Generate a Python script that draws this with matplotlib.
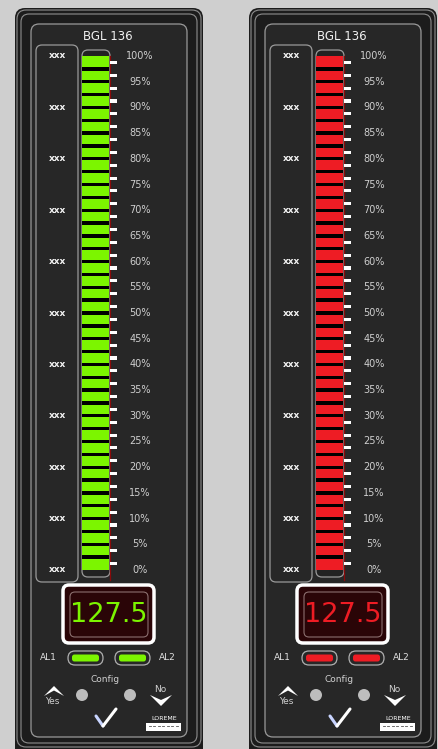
import numpy as np
import matplotlib
matplotlib.use("Agg")
import matplotlib.pyplot as plt
from matplotlib.patches import FancyBboxPatch, Circle, Polygon

W, H = 439, 749

# chart data
title = "BGL 136"
percent_labels = [100, 95, 90, 85, 80, 75, 70, 65, 60, 55, 50, 45, 40, 35, 30, 25, 20, 15, 10, 5, 0]
side_labels = ["xxx"] * 11
side_label_pos = [100, 90, 80, 70, 60, 50, 40, 30, 20, 10, 0]
n_segments = 40
bar_level = [100, 100]
display_value = ["127.5", "127.5"]
panel_colors = ["#7cf500", "#ee1c24"]
panel_offsets = [0, 234]

fig = plt.figure(figsize=(W / 100, H / 100), dpi=100)
fig.patch.set_facecolor("#cfcfcf")
ax = fig.add_axes([0, 0, 1, 1])
ax.set_xlim(0, W)
ax.set_ylim(H, 0)
ax.axis("off")

# bar axes in percent units (100% at y=56 px, 0% at y=570 px)
bax = fig.add_axes([0, (H - 570) / H, 1, 514 / H])
bax.set_xlim(0, W)
bax.set_ylim(0, 100)
bax.axis("off")
bax.patch.set_alpha(0)


def rbox(x0, y0, x1, y1, r, fc="none", ec="none", lw=1.0, z=1):
    p = FancyBboxPatch((x0, y0), x1 - x0, y1 - y0,
                       boxstyle="round,pad=0,rounding_size=%g" % r,
                       fc=fc, ec=ec, lw=lw, zorder=z)
    ax.add_patch(p)
    return p


for i, off in enumerate(panel_offsets):
    col = panel_colors[i]
    # outer housing
    rbox(15 + off, 8, 203 + off, 760, 10, fc="#1c1c1c", z=1)
    rbox(17 + off, 10, 201 + off, 747, 9, ec="#8e8e8e", lw=0.8, z=2)
    rbox(21 + off, 14, 197 + off, 743, 8, ec="#8e8e8e", lw=0.8, z=2)
    # inner face
    rbox(31 + off, 24, 187 + off, 737, 8, fc="#272727", ec="#9a9a9a", lw=0.9, z=3)
    ax.text(108 + off, 36, title, ha="center", va="center", fontsize=8.5,
            color="#f0f0f0", zorder=5)

    # side label box
    rbox(36 + off, 45, 78 + off, 582, 6, ec="#9a9a9a", lw=0.9, z=4)
    for lab, p in zip(side_labels, side_label_pos):
        bax.text(57 + off, p, lab, ha="center", va="center", fontsize=6.5,
                 fontweight="bold", color="#f2f2f2", zorder=5)

    # bargraph tube
    rbox(82 + off, 50, 110 + off, 577, 6, fc="#222222", ec="#9a9a9a", lw=0.9, z=4)
    cx = 96 + off
    bax.bar(cx, 100, bottom=0, width=27, color="black", zorder=5)
    bax.bar(cx, bar_level[i], bottom=0, width=27, color=col, zorder=6)
    seg = 100 / n_segments
    bounds = np.arange(1, n_segments) * seg
    bax.bar([cx] * len(bounds), 0.65, bottom=bounds - 0.325, width=27,
            color="black", zorder=7)
    ax.plot([109.6 + off, 109.6 + off], [56, 580], color="#8a0a0a", lw=0.9, zorder=8)

    # ticks and scale
    ticks = (np.arange(n_segments) + 0.5) * seg
    bax.barh(ticks, 7, left=110.5 + off, height=0.6, color="white", zorder=7)
    for p in percent_labels:
        bax.text(140 + off, p, "%d%%" % p, ha="center", va="center",
                 fontsize=7, color="#cfcfcf", zorder=7)

    # numeric display
    rbox(63 + off, 585, 154 + off, 643, 6, fc="#2a0507", ec="white", lw=2.5, z=5)
    rbox(70 + off, 592, 148 + off, 637, 5, ec="#8a6e6e", lw=0.8, z=6)
    ax.text(108.5 + off, 615, display_value[i], ha="center", va="center",
            fontsize=19.5, color=col, zorder=7)

    # alarm LEDs
    for x0, x1 in [(68, 103), (115, 150)]:
        rbox(x0 + off, 651, x1 + off, 665, 7, ec="#b0b0b0", lw=0.9, z=5)
        rbox(x0 + 4 + off, 654.5, x1 - 4 + off, 661.5, 2.5, fc=col, z=6)
    ax.text(48 + off, 658, "AL1", ha="center", va="center", fontsize=6.5,
            color="#e0e0e0", zorder=6)
    ax.text(167 + off, 658, "AL2", ha="center", va="center", fontsize=6.5,
            color="#e0e0e0", zorder=6)

    # config keys
    ax.text(105 + off, 679, "Config", ha="center", va="center", fontsize=6.5,
            color="#d0d0d0", zorder=6)
    for x in (82, 130):
        ax.add_patch(Circle((x + off, 695), 6, fc="#bdbdbd", ec="none", zorder=6))
    ax.add_patch(Polygon([(44 + off, 696), (54 + off, 686), (64 + off, 696),
                          (54 + off, 690.5)], closed=True, fc="white", ec="none", zorder=6))
    ax.text(52 + off, 701.5, "Yes", ha="center", va="center", fontsize=6.5,
            color="#d0d0d0", zorder=6)
    ax.text(160 + off, 690, "No", ha="center", va="center", fontsize=6.5,
            color="#d0d0d0", zorder=6)
    ax.add_patch(Polygon([(150 + off, 695), (161 + off, 706), (172 + off, 695),
                          (161 + off, 700)], closed=True, fc="white", ec="none", zorder=6))
    # check mark
    ax.plot([96 + off, 103 + off], [716, 726], color="#c8d4ff", lw=2.2, zorder=6,
            solid_capstyle="round")
    ax.plot([103 + off, 116 + off], [726, 709], color="white", lw=2.2, zorder=6,
            solid_capstyle="round")

    # logo
    ax.text(164 + off, 719, "LOREME", ha="center", va="center", fontsize=4.5,
            color="white", zorder=6)
    ax.add_patch(FancyBboxPatch((146 + off, 723), 35, 8, boxstyle="square,pad=0",
                                fc="white", ec="none", zorder=6))
    for j in range(7):
        ax.plot([149 + off + j * 4.5, 151 + off + j * 4.5], [726, 726],
                color="#555555", lw=0.6, zorder=7)

fig.savefig("out.png", dpi=100, facecolor=fig.get_facecolor())
